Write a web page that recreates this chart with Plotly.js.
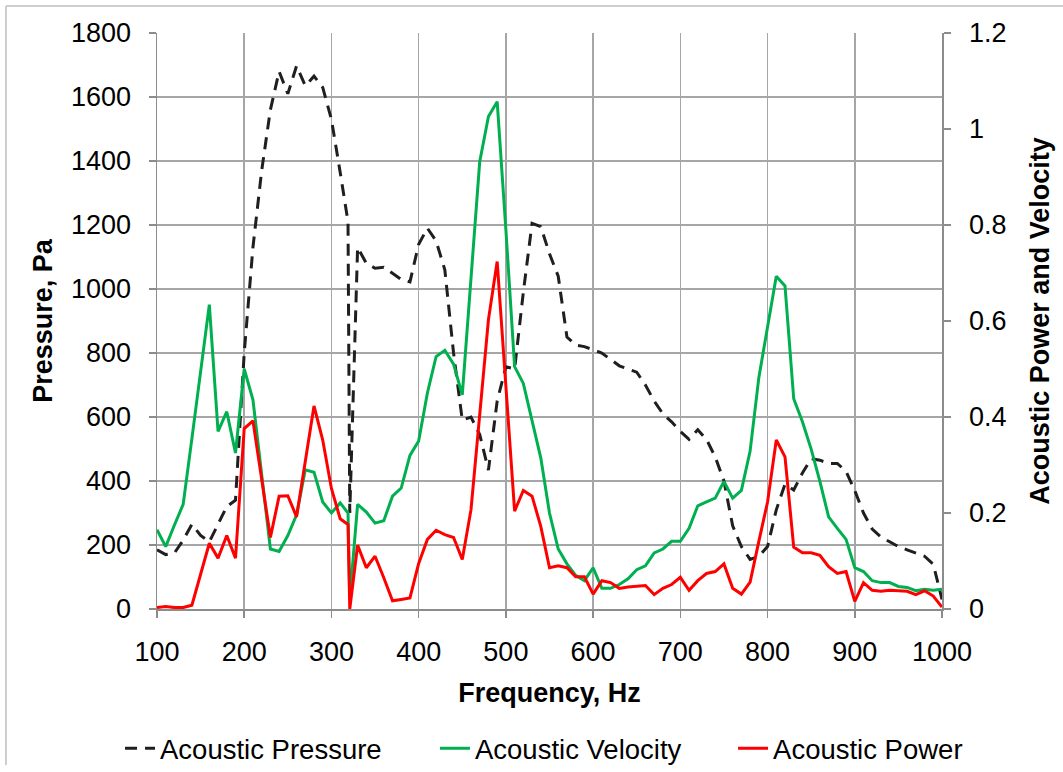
<!DOCTYPE html>
<html>
<head>
<meta charset="utf-8">
<script src="https://cdn.plot.ly/plotly-3.0.1.min.js"></script>
<style>
html,body{margin:0;padding:0;background:#fff;}
#chart{width:1063px;height:772px;}
</style>
</head>
<body>
<div id="chart"></div>
<script>
const frequency = [100,110,120,130,140,150,160,170,180,190,200,210,220,230,240,250,260,270,280,290,300,310,319,321,330,340,350,360,370,380,390,400,410,420,430,440,450,460,470,480,490,500,510,520,530,540,550,560,570,580,590,600,610,620,630,640,650,660,670,680,690,700,710,720,730,740,750,760,770,780,790,800,810,820,830,840,850,860,870,880,890,900,910,920,930,940,950,960,970,980,990,1000];

const acousticPressure = [185,170,175,215,265,230,210,265,320,340,800,1130,1370,1560,1680,1610,1697,1635,1665,1630,1530,1365,1210,300,1130,1080,1065,1068,1050,1030,1022,1140,1190,1150,1060,800,590,600,545,434,650,757,750,990,1205,1195,1110,1040,850,825,820,810,800,780,760,750,740,700,650,610,585,555,530,560,530,475,400,260,195,155,165,195,310,390,372,425,470,465,455,455,430,370,300,250,225,210,195,185,175,165,140,30];

const acousticVelocity = [0.165,0.13,0.175,0.218,0.355,0.495,0.634,0.37,0.411,0.325,0.5,0.436,0.28,0.125,0.12,0.153,0.196,0.29,0.285,0.223,0.2,0.221,0.2,0.02,0.218,0.202,0.179,0.184,0.235,0.252,0.32,0.35,0.45,0.526,0.539,0.51,0.446,0.68,0.932,1.026,1.057,0.79,0.505,0.47,0.39,0.315,0.2,0.125,0.094,0.07,0.059,0.086,0.043,0.043,0.051,0.063,0.082,0.09,0.117,0.125,0.141,0.141,0.168,0.215,0.223,0.231,0.266,0.231,0.247,0.329,0.482,0.587,0.693,0.673,0.438,0.39,0.333,0.266,0.192,0.168,0.145,0.086,0.078,0.059,0.055,0.055,0.047,0.045,0.038,0.041,0.039,0.041];

const acousticPower = [0.003,0.005,0.003,0.003,0.008,0.072,0.137,0.106,0.153,0.106,0.376,0.392,0.27,0.149,0.235,0.236,0.192,0.305,0.423,0.352,0.251,0.188,0.176,0.0,0.133,0.086,0.11,0.065,0.017,0.02,0.023,0.095,0.145,0.164,0.155,0.149,0.103,0.207,0.4,0.603,0.724,0.46,0.204,0.247,0.235,0.172,0.086,0.09,0.086,0.067,0.067,0.031,0.059,0.055,0.043,0.046,0.047,0.049,0.03,0.043,0.051,0.066,0.039,0.059,0.074,0.078,0.094,0.043,0.031,0.056,0.141,0.223,0.352,0.317,0.129,0.117,0.117,0.112,0.088,0.074,0.078,0.016,0.055,0.039,0.037,0.039,0.038,0.037,0.03,0.038,0.027,0.004];

const seriesNames = ['Acoustic Pressure','Acoustic Velocity','Acoustic Power'];
const xTickVals = [100,200,300,400,500,600,700,800,900,1000];
const leftTickVals = [0,200,400,600,800,1000,1200,1400,1600,1800];
const rightTickVals = [0,0.2,0.4,0.6,0.8,1,1.2];
const rightTickText = ['0','0.2','0.4','0.6','0.8','1','1.2'];

const FONT = 'Arial, "Liberation Sans", sans-serif';
const AXC = '#8C8C8C';
const GRID = '#A6A6A6';

const traces = [
  {x: frequency, y: acousticPressure, name: seriesNames[0], type: 'scatter', mode: 'lines',
   line: {color: '#1f1f1f', width: 3, dash: '12px,8px'}, yaxis: 'y', legend: 'legend'},
  {x: frequency, y: acousticVelocity, name: seriesNames[1], type: 'scatter', mode: 'lines',
   line: {color: '#00B050', width: 3}, yaxis: 'y2', legend: 'legend2'},
  {x: frequency, y: acousticPower, name: seriesNames[2], type: 'scatter', mode: 'lines',
   line: {color: '#FF0000', width: 3}, yaxis: 'y2', legend: 'legend3'}
];

function leg(x) {
  return {orientation: 'h', x: x, xanchor: 'left', y: -0.242, yanchor: 'middle',
          font: {family: FONT, size: 27.5, color: '#000'}, bgcolor: 'rgba(0,0,0,0)', borderwidth: 0};
}

const layout = {
  width: 1063, height: 772,
  margin: {l: 157, r: 121, t: 33, b: 163, pad: 0, autoexpand: false},
  paper_bgcolor: '#ffffff', plot_bgcolor: '#ffffff',
  font: {family: FONT, size: 26, color: '#000'},
  showlegend: true,
  legend: leg(-0.0471),
  legend2: leg(0.3541),
  legend3: leg(0.7338),
  xaxis: {range: [100, 1000], tickvals: xTickVals, ticktext: xTickVals.map(String),
          showgrid: true, gridcolor: GRID, gridwidth: 1.5,
          showline: true, linecolor: AXC, linewidth: 1.5,
          ticks: 'outside', ticklen: 7, tickcolor: AXC, tickwidth: 1.5,
          ticklabelstandoff: 11, automargin: false,
          tickfont: {family: FONT, size: 27, color: '#000'},
          zeroline: false,
          title: {text: '<b>Frequency, Hz</b>', font: {family: FONT, size: 27, color: '#000'}, standoff: 17}},
  yaxis: {range: [0, 1800], tickvals: leftTickVals, ticktext: leftTickVals.map(String),
          showgrid: true, gridcolor: GRID, gridwidth: 1.5,
          showline: true, linecolor: AXC, linewidth: 1.5,
          ticks: 'outside', ticklen: 7, tickcolor: AXC, tickwidth: 1.5,
          ticklabelstandoff: 12, automargin: false,
          tickfont: {family: FONT, size: 27, color: '#000'},
          zeroline: false,
          title: {text: '<b>Pressure, Pa</b>', font: {family: FONT, size: 27, color: '#000'}, standoff: 10}},
  yaxis2: {range: [0, 1.2], tickvals: rightTickVals, ticktext: rightTickText,
           overlaying: 'y', side: 'right', showgrid: false,
           showline: true, linecolor: AXC, linewidth: 1.5,
           ticks: 'outside', ticklen: 7, tickcolor: AXC, tickwidth: 1.5,
           ticklabelstandoff: 13, automargin: false,
           tickfont: {family: FONT, size: 27, color: '#000'},
           zeroline: false,
           title: {text: '<b>Acoustic Power and Velocity</b>', font: {family: FONT, size: 27, color: '#000'}, standoff: 24}},
  shapes: [
    {type: 'line', xref: 'paper', yref: 'paper', x0: -0.1924, x1: -0.1924, y0: -0.2708, y1: 1.0469,
     line: {color: '#BFBFBF', width: 1.5}},
    {type: 'line', xref: 'paper', yref: 'paper', x0: -0.1924, x1: 1.1541, y0: 1.0469, y1: 1.0469,
     line: {color: '#BFBFBF', width: 1.5}}
  ]
};

Plotly.newPlot('chart', traces, layout, {displayModeBar: false, staticPlot: true});
</script>
</body>
</html>
